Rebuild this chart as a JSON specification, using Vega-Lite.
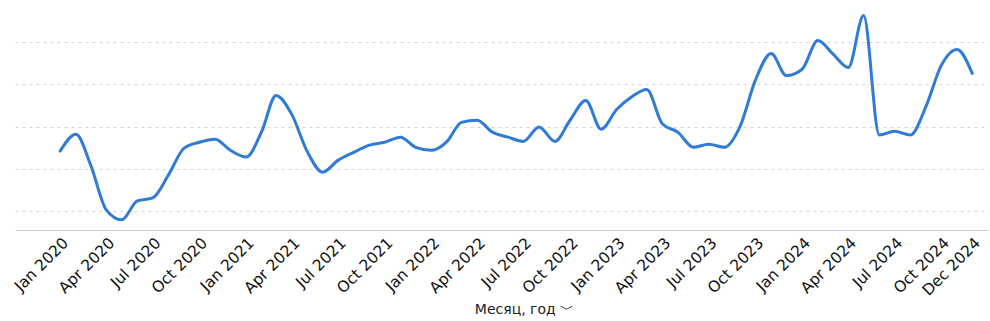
{
  "$schema": "https://vega.github.io/schema/vega-lite/v6.json",
  "width": 973,
  "height": 230,
  "autosize": {"type": "none"},
  "padding": {"left": 15, "top": 0, "right": 2, "bottom": 91},
  "background": "white",
  "config": {"view": {"stroke": null}},
  "data": {"values": [
    {"date": "2020-01-01", "value": 24.2}, {"date": "2020-02-01", "value": 28.2}, {"date": "2020-03-01", "value": 20.9}, {"date": "2020-04-01", "value": 10.2}, {"date": "2020-05-01", "value": 7.9}, {"date": "2020-06-01", "value": 12.4}, {"date": "2020-07-01", "value": 13.1}, {"date": "2020-08-01", "value": 18.5}, {"date": "2020-09-01", "value": 24.9}, {"date": "2020-10-01", "value": 26.3}, {"date": "2020-11-01", "value": 27.0}, {"date": "2020-12-01", "value": 24.4},
    {"date": "2021-01-01", "value": 22.8}, {"date": "2021-02-01", "value": 28.9}, {"date": "2021-03-01", "value": 37.4}, {"date": "2021-04-01", "value": 32.9}, {"date": "2021-05-01", "value": 24.2}, {"date": "2021-06-01", "value": 19.2}, {"date": "2021-07-01", "value": 22.0}, {"date": "2021-08-01", "value": 23.9}, {"date": "2021-09-01", "value": 25.6}, {"date": "2021-10-01", "value": 26.3}, {"date": "2021-11-01", "value": 27.5}, {"date": "2021-12-01", "value": 25.1},
    {"date": "2022-01-01", "value": 24.4}, {"date": "2022-02-01", "value": 26.5}, {"date": "2022-03-01", "value": 31.0}, {"date": "2022-04-01", "value": 31.5}, {"date": "2022-05-01", "value": 28.7}, {"date": "2022-06-01", "value": 27.5}, {"date": "2022-07-01", "value": 26.5}, {"date": "2022-08-01", "value": 29.9}, {"date": "2022-09-01", "value": 26.5}, {"date": "2022-10-01", "value": 31.5}, {"date": "2022-11-01", "value": 36.2}, {"date": "2022-12-01", "value": 29.4},
    {"date": "2023-01-01", "value": 34.1}, {"date": "2023-02-01", "value": 37.2}, {"date": "2023-03-01", "value": 38.8}, {"date": "2023-04-01", "value": 30.6}, {"date": "2023-05-01", "value": 28.7}, {"date": "2023-06-01", "value": 25.1}, {"date": "2023-07-01", "value": 25.8}, {"date": "2023-08-01", "value": 25.1}, {"date": "2023-09-01", "value": 30.1}, {"date": "2023-10-01", "value": 41.0}, {"date": "2023-11-01", "value": 47.3}, {"date": "2023-12-01", "value": 42.1},
    {"date": "2024-01-01", "value": 43.6}, {"date": "2024-02-01", "value": 50.4}, {"date": "2024-03-01", "value": 47.3}, {"date": "2024-04-01", "value": 44.0}, {"date": "2024-05-01", "value": 56.3}, {"date": "2024-06-01", "value": 28.0}, {"date": "2024-07-01", "value": 28.9}, {"date": "2024-08-01", "value": 28.0}, {"date": "2024-09-01", "value": 34.8}, {"date": "2024-10-01", "value": 44.5}, {"date": "2024-11-01", "value": 48.3}, {"date": "2024-12-01", "value": 42.6}
  ]},
  "mark": {"type": "line", "interpolate": "monotone", "color": "#2f7bd6", "strokeWidth": 3, "strokeCap": "round", "strokeJoin": "round"},
  "encoding": {
    "x": {
      "field": "date", "type": "temporal",
      "scale": {"type": "utc", "domain": [{"year": 2019, "month": 10, "date": 4, "utc": true}, {"year": 2025, "month": 1, "date": 1, "utc": true}], "nice": false},
      "axis": {
        "values": [
          {"year": 2020, "month": 1, "date": 1, "utc": true}, {"year": 2020, "month": 4, "date": 1, "utc": true}, {"year": 2020, "month": 7, "date": 1, "utc": true}, {"year": 2020, "month": 10, "date": 1, "utc": true},
          {"year": 2021, "month": 1, "date": 1, "utc": true}, {"year": 2021, "month": 4, "date": 1, "utc": true}, {"year": 2021, "month": 7, "date": 1, "utc": true}, {"year": 2021, "month": 10, "date": 1, "utc": true},
          {"year": 2022, "month": 1, "date": 1, "utc": true}, {"year": 2022, "month": 4, "date": 1, "utc": true}, {"year": 2022, "month": 7, "date": 1, "utc": true}, {"year": 2022, "month": 10, "date": 1, "utc": true},
          {"year": 2023, "month": 1, "date": 1, "utc": true}, {"year": 2023, "month": 4, "date": 1, "utc": true}, {"year": 2023, "month": 7, "date": 1, "utc": true}, {"year": 2023, "month": 10, "date": 1, "utc": true},
          {"year": 2024, "month": 1, "date": 1, "utc": true}, {"year": 2024, "month": 4, "date": 1, "utc": true}, {"year": 2024, "month": 7, "date": 1, "utc": true}, {"year": 2024, "month": 10, "date": 1, "utc": true},
          {"year": 2024, "month": 12, "date": 1, "utc": true}
        ],
        "labelExpr": "utcFormat(datum.value, '%b %Y')",
        "labelAngle": -45, "labelAlign": "right", "labelBaseline": "top",
        "labelFont": "DejaVu Sans", "labelFontSize": 15.5, "labelColor": "#111", "labelPadding": 5,
        "labelOverlap": false, "labelFlush": false, "labelBound": false,
        "ticks": false, "domainColor": "#cccccc", "domainWidth": 1, "grid": false,
        "title": "Месяц, год ﹀", "titleFont": "DejaVu Sans", "titleFontSize": 14, "titleFontWeight": "normal", "titleColor": "#222",
        "titleX": 509, "titleY": 83, "titleAlign": "center", "titleBaseline": "alphabetic"
      }
    },
    "y": {
      "field": "value", "type": "quantitative",
      "scale": {"domain": [5.5, 60], "nice": false, "zero": false},
      "axis": {
        "values": [10, 20, 30, 40, 50], "labels": false, "ticks": false, "domain": false, "title": null,
        "grid": true, "gridColor": "#d4d4d4", "gridDash": [3, 4], "gridWidth": 1
      }
    }
  }
}
